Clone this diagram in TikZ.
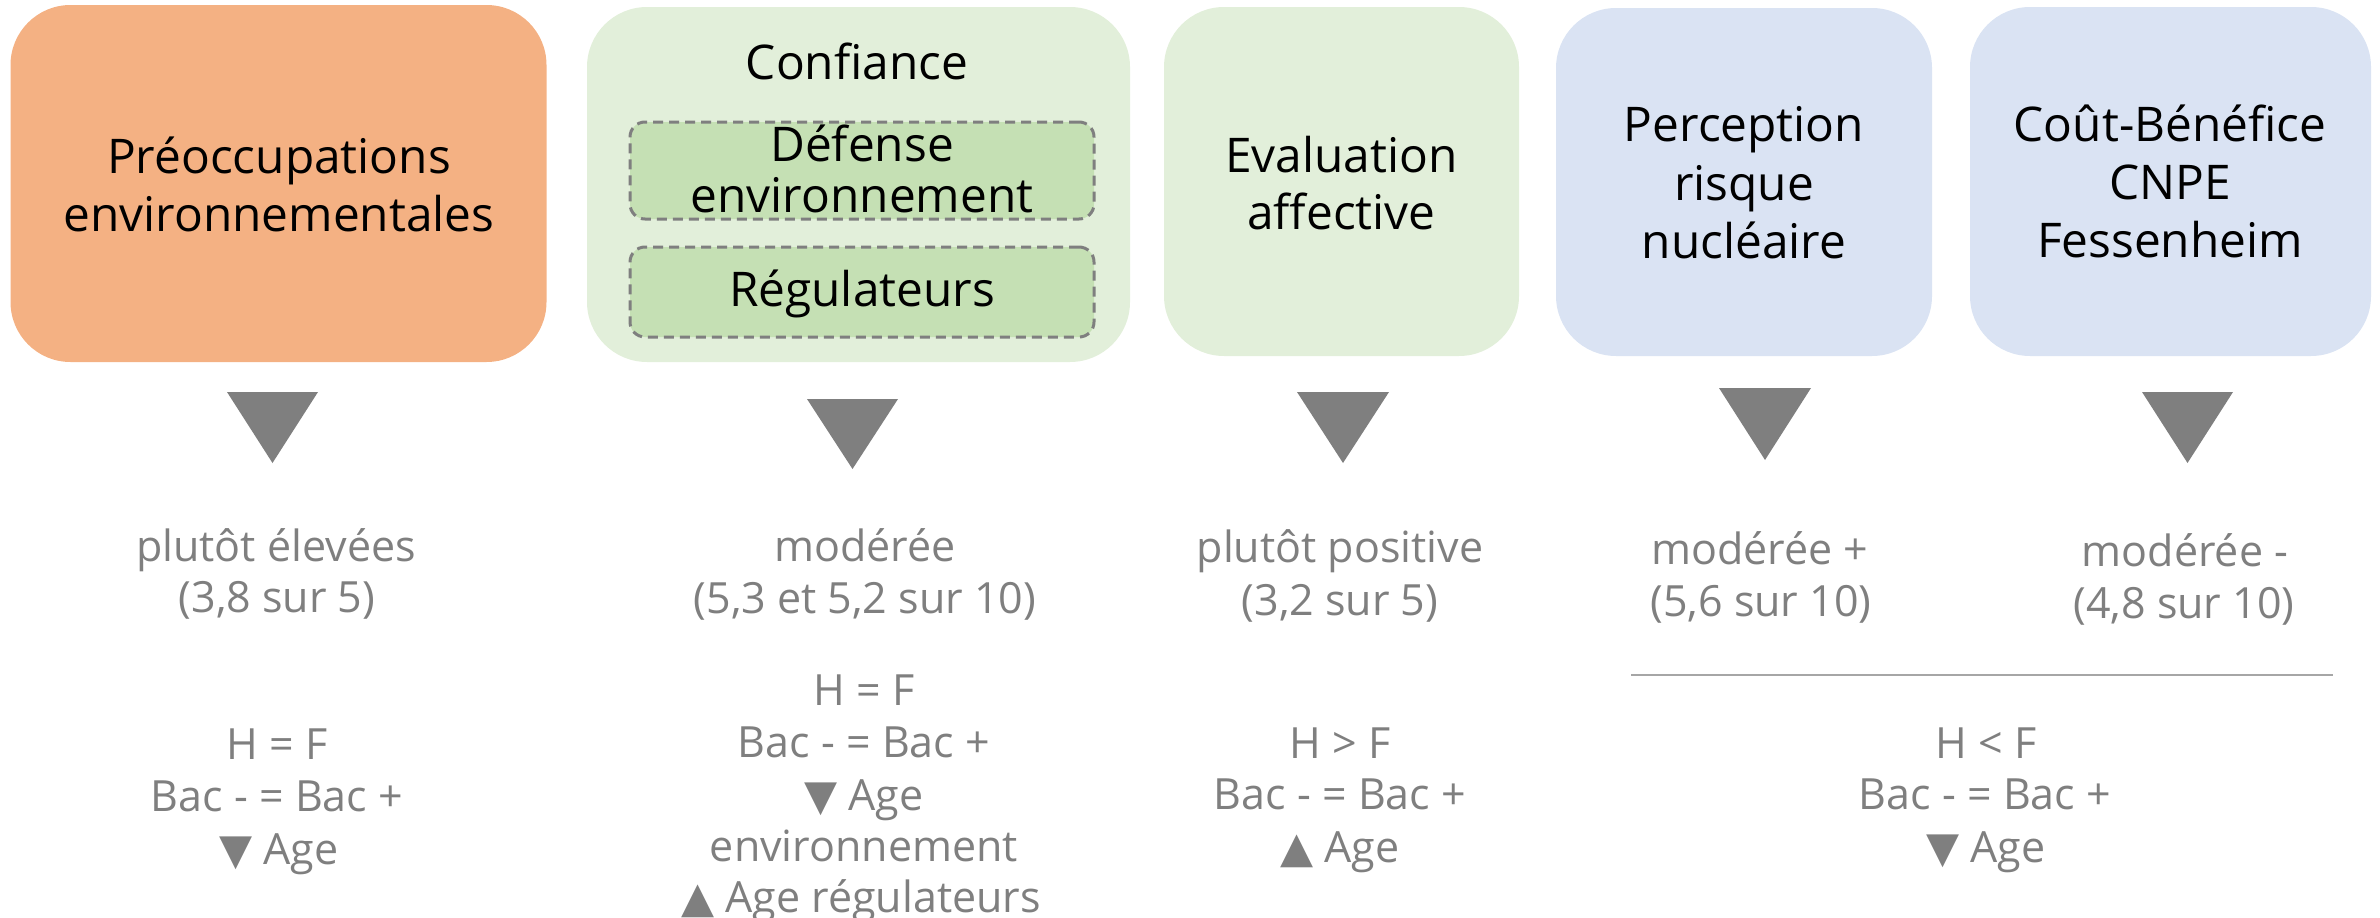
\documentclass[tikz,border=0pt]{standalone}
\usepackage{fontspec}
\setmainfont{Open Sans}
\newfontfamily\symfont{DejaVu Sans}
\definecolor{orangeA}{HTML}{F4B183}
\definecolor{greenA}{HTML}{E2EFDA}
\definecolor{greenB}{HTML}{C5E0B4}
\definecolor{blueA}{HTML}{DAE3F3}
\definecolor{grayT}{HTML}{7F7F7F}
\definecolor{grayL}{HTML}{A6A6A6}
\tikzset{
  bigbox/.style={rounded corners=60pt, draw=none, inner sep=0pt},
  innerbox/.style={rounded corners=15pt, fill=greenB, draw=grayT, line width=3pt, dash pattern=on 10pt off 6pt, inner sep=0pt},
  title/.style={anchor=base, inner sep=0pt, text=black, font=\fontsize{47.8}{57}\selectfont},
  info/.style={anchor=base, inner sep=0pt, text=grayT, font=\fontsize{43}{52}\selectfont},
  tri/.style={fill=grayT, draw=none},
  sep/.style={draw=grayL, line width=2pt}
}
\newcommand{\dn}{{\symfont\char"25BC}}
\newcommand{\up}{{\symfont\char"25B2}}
\begin{document}
\begin{tikzpicture}[x=1pt,y=-1pt]
\useasboundingbox (0,0) rectangle (2380,918);
% boxes
\node[bigbox, fill=orangeA, minimum width=536pt, minimum height=357pt] (b1) at (278.5,183.5) {};
\node[bigbox, fill=greenA, minimum width=543pt, minimum height=355pt] (b2) at (858.5,184.5) {};
\node[bigbox, fill=greenA, minimum width=355pt, minimum height=349pt] (b3) at (1341.5,181.5) {};
\node[bigbox, fill=blueA, minimum width=376pt, minimum height=348pt] (b4) at (1744,182) {};
\node[bigbox, fill=blueA, minimum width=401pt, minimum height=349pt] (b5) at (2170.5,181.5) {};
\node[innerbox, minimum width=464pt, minimum height=97pt] (i1) at (862,170.5) {};
\node[innerbox, minimum width=464pt, minimum height=90pt] (i2) at (862,292) {};
% titles
\node[title] (t1a) at (279,173) {Préoccupations};
\node[title] (t1b) at (279,231) {environnementales};
\node[title] (t2) at (857,79) {Confiance};
\node[title] (t2a) at (862,161) {Défense};
\node[title] (t2b) at (862,212) {environnement};
\node[title] (t2c) at (862,306) {Régulateurs};
\node[title] (t3a) at (1341.5,172) {Evaluation};
\node[title] (t3b) at (1341.5,229) {affective};
\node[title] (t4a) at (1744,141.5) {Perception};
\node[title] (t4b) at (1744,200) {risque};
\node[title] (t4c) at (1744,258) {nucléaire};
\node[title] (t5a) at (2170,141.5) {Coût-Bénéfice};
\node[title] (t5b) at (2170,199.5) {CNPE};
\node[title] (t5c) at (2170,257) {Fessenheim};
% triangles
\fill[tri] (227,392) -- (318,392) -- (272.5,463) -- cycle;
\fill[tri] (807,399) -- (898,399) -- (852.5,469) -- cycle;
\fill[tri] (1297,392) -- (1389,392) -- (1343,463) -- cycle;
\fill[tri] (1719,388) -- (1811,388) -- (1765,460) -- cycle;
\fill[tri] (2142,392) -- (2233,392) -- (2187.5,463) -- cycle;
% column 1
\node[info] (c1a) at (276,561) {plutôt élevées};
\node[info] (c1b) at (277,612) {(3,8 sur 5)};
\node[info] (c1c) at (277,759) {H = F};
\node[info] (c1d) at (277,811) {Bac - = Bac +};
\node[info] (c1e) at (279,864) {\dn\ Age};
% column 2
\node[info] (c2a) at (865,561) {modérée};
\node[info] (c2b) at (865,613) {(5,3 et 5,2 sur 10)};
\node[info] (c2c) at (864,705) {H = F};
\node[info] (c2d) at (864,757) {Bac - = Bac +};
\node[info] (c2e) at (864,810) {\dn\ Age};
\node[info] (c2f) at (864,861) {environnement};
\node[info] (c2g) at (861,912) {\up\ Age régulateurs};
% column 3
\node[info] (c3a) at (1340,562.5) {plutôt positive};
\node[info] (c3b) at (1340,615) {(3,2 sur 5)};
\node[info] (c3c) at (1340,758) {H > F};
\node[info] (c3d) at (1340,809) {Bac - = Bac +};
\node[info] (c3e) at (1340,862) {\up\ Age};
% columns 4-5
\node[info] (c4a) at (1760,564) {modérée +};
\node[info] (c4b) at (1761,616) {(5,6 sur 10)};
\node[info] (c5a) at (2185,566) {modérée -};
\node[info] (c5b) at (2184,618) {(4,8 sur 10)};
\coordinate (s1) at (1631,674.5);
\coordinate (s2) at (2333,674.5);
\draw[sep] (s1) -- (s2);
\node[info] (c45a) at (1986,758) {H < F};
\node[info] (c45b) at (1985,809) {Bac - = Bac +};
\node[info] (c45c) at (1986,862) {\dn\ Age};
\end{tikzpicture}
\end{document}
